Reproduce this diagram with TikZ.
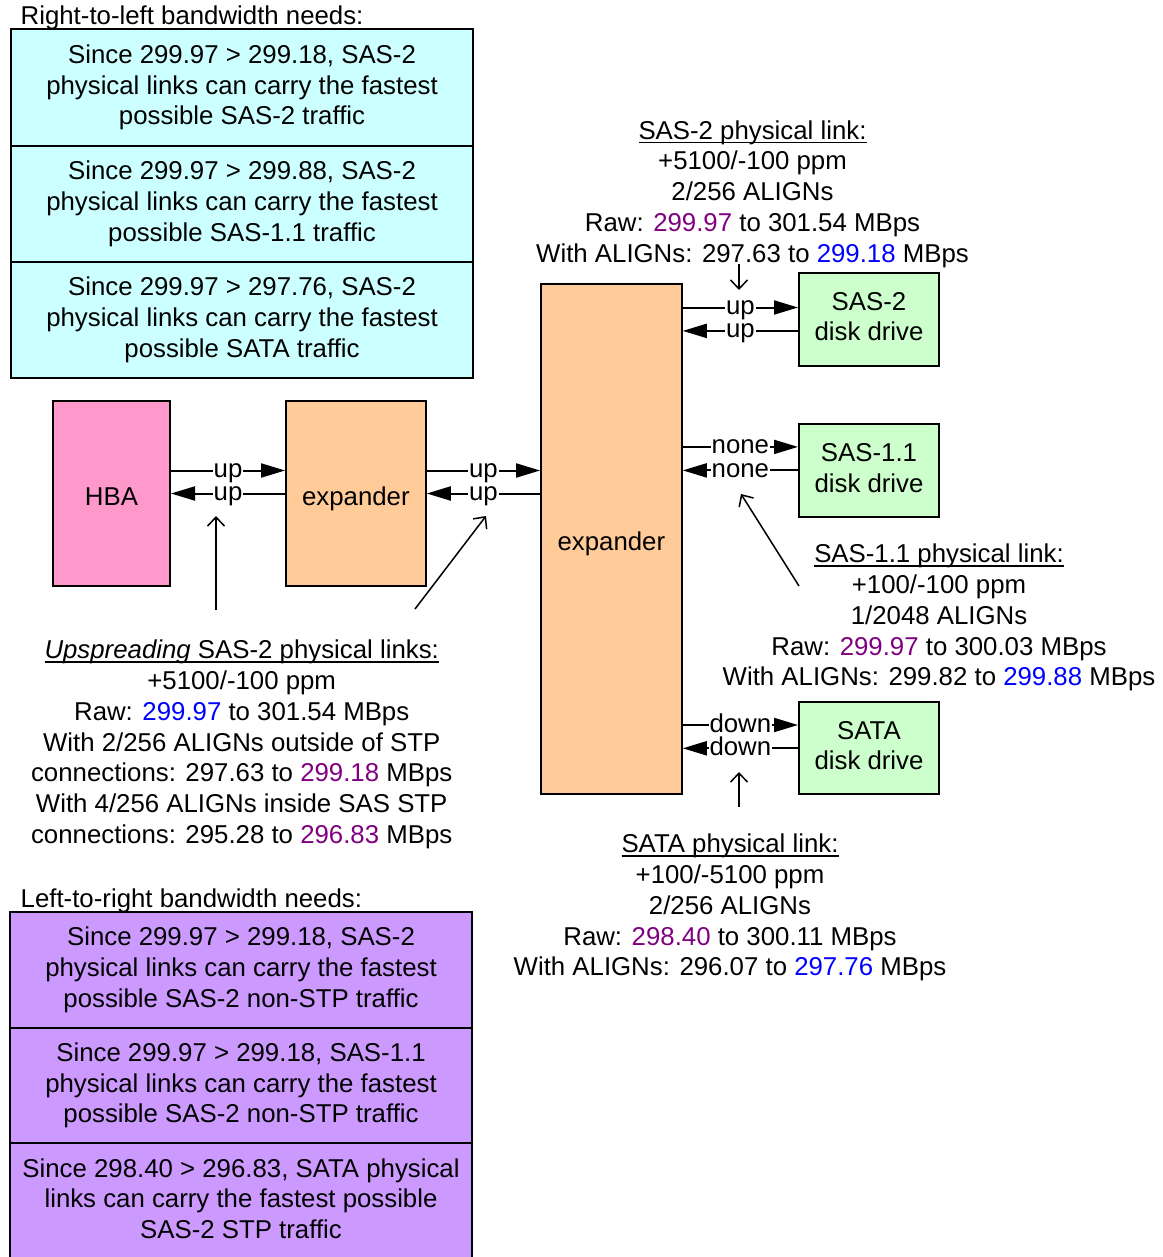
\documentclass[tikz,border=0pt]{standalone}
\usepackage{fontspec}
\setmainfont{Liberation Sans}
\usetikzlibrary{arrows.meta}
\definecolor{txtpurple}{HTML}{800080}
\definecolor{txtblue}{HTML}{0000FF}
\definecolor{cyanfill}{HTML}{CCFFFF}
\definecolor{violetfill}{HTML}{CC99FF}
\definecolor{hbafill}{HTML}{FF99CC}
\definecolor{expfill}{HTML}{FFCC99}
\definecolor{diskfill}{HTML}{CCFFCC}
\newcommand\bodyfont{\fontsize{25.8pt}{30.8pt}\selectfont}
\newcommand\ulx[1]{\setbox0=\hbox{#1}\rlap{\rule[-4.1pt]{\wd0}{1.4pt}}\box0}
\newcommand\pu[1]{\textcolor{txtpurple}{#1}}
\newcommand\bl[1]{\textcolor{txtblue}{#1}}
\begin{document}
\begin{tikzpicture}[x=1pt,y=-1pt,
  box/.style={draw, line width=2pt, inner sep=0pt, align=center, font=\bodyfont,
    execute at begin node={\rule{0pt}{29pt}},
    execute at end node={\rule[-5.5pt]{0pt}{5.5pt}}},
  txt/.style={inner sep=0pt, align=center, font=\bodyfont, anchor=north,
    execute at begin node={\rule{0pt}{25pt}}},
  heading/.style={inner sep=0pt, font=\bodyfont, anchor=base west},
  link/.style={line width=2pt, -{Triangle[length=24pt,width=14pt]}},
  lbl/.style={fill=white, inner xsep=1pt, inner ysep=0.5pt, font=\bodyfont,
    text height=14pt, text depth=0pt},
  ptr/.style={line width=1.5pt, -{Straight Barb[length=9pt,width=17pt]}}
]
\useasboundingbox (0,0) rectangle (1162,1257);

% headings
\node[heading] (rtl) at (20.5,25) {Right-to-left bandwidth needs:};
\node[heading] (ltr) at (20.5,907.5) {Left-to-right bandwidth needs:};

% cyan boxes
\node[box, fill=cyanfill, minimum width=462.6pt, minimum height=116.3pt] (c1) at (242,87.5)
  {Since 299.97 > 299.18, SAS-2\\physical links can carry the fastest\\possible SAS-2 traffic};
\node[box, fill=cyanfill, minimum width=462.6pt, minimum height=116.3pt] (c2) at (242,203.8)
  {Since 299.97 > 299.88, SAS-2\\physical links can carry the fastest\\possible SAS-1.1 traffic};
\node[box, fill=cyanfill, minimum width=462.6pt, minimum height=116.3pt] (c3) at (242,320.1)
  {Since 299.97 > 297.76, SAS-2\\physical links can carry the fastest\\possible SATA traffic};

% violet boxes
\node[box, fill=violetfill, minimum width=462pt, minimum height=115.8pt] (v1) at (241,969.6)
  {Since 299.97 > 299.18, SAS-2\\physical links can carry the fastest\\possible SAS-2 non-STP traffic};
\node[box, fill=violetfill, minimum width=462pt, minimum height=115.8pt] (v2) at (241,1085.4)
  {Since 299.97 > 299.18, SAS-1.1\\physical links can carry the fastest\\possible SAS-2 non-STP traffic};
\node[box, fill=violetfill, minimum width=462pt, minimum height=115.8pt] (v3) at (241,1201.2)
  {Since 298.40 > 296.83, SATA physical\\links can carry the fastest possible\\SAS-2 STP traffic};

% devices
\node[box, fill=hbafill, minimum width=117pt, minimum height=185pt] (hba) at (111.5,493.5) {HBA};
\node[box, fill=expfill, minimum width=139.7pt, minimum height=185pt] (exp1) at (355.9,493.5) {expander};
\node[box, fill=expfill, minimum width=140.7pt, minimum height=510.3pt] (exp2) at (611.4,539.2) {expander};
\node[box, fill=diskfill, minimum width=140pt, minimum height=93pt] (sas2) at (869,319.2) {SAS-2\\disk drive};
\node[box, fill=diskfill, minimum width=140pt, minimum height=93pt] (sas11) at (869,470.4) {SAS-1.1\\disk drive};
\node[box, fill=diskfill, minimum width=140pt, minimum height=92pt] (sata) at (869,748.3) {SATA\\disk drive};

% links
\draw[link] ([yshift=23pt]hba.east) -- node[lbl]{up} ([yshift=23pt]hba.east -| exp1.west);
\draw[link] (exp1.west |- hba.east) -- node[lbl]{up} (hba.east);
\draw[link] ([yshift=23pt]exp1.east) -- node[lbl]{up} ([yshift=23pt]exp1.east -| exp2.west);
\draw[link] (exp1.east -| exp2.west) -- node[lbl]{up} (exp1.east);

\draw[link] ([yshift=11.7pt]sas2.west -| exp2.east) -- node[lbl]{up} ([yshift=11.7pt]sas2.west);
\draw[link] ([yshift=-11.7pt]sas2.west) -- node[lbl]{up} ([yshift=-11.7pt]sas2.west -| exp2.east);
\draw[link] ([yshift=23.5pt]sas11.west -| exp2.east) -- node[lbl]{none} ([yshift=23.5pt]sas11.west);
\draw[link] (sas11.west) -- node[lbl]{none} (sas11.west -| exp2.east);
\draw[link] ([yshift=23.3pt]sata.west -| exp2.east) -- node[lbl]{down} ([yshift=23.3pt]sata.west);
\draw[link] (sata.west) -- node[lbl]{down} (sata.west -| exp2.east);

% text blocks
\node[txt] (sas2txt) at (752.5,120.3) {\ulx{SAS-2 physical link:}\\+5100/-100 ppm\\2/256 ALIGNs\\Raw: \pu{299.97} to 301.54 MBps\\With ALIGNs: 297.63 to \bl{299.18} MBps};
\node[txt] (sas11txt) at (939,543.7) {\ulx{SAS-1.1 physical link:}\\+100/-100 ppm\\1/2048 ALIGNs\\Raw: \pu{299.97} to 300.03 MBps\\With ALIGNs: 299.82 to \bl{299.88} MBps};
\node[txt] (upstxt) at (241.7,639.7) {\ulx{\textit{Upspreading} SAS-2 physical links:}\\+5100/-100 ppm\\Raw: \bl{299.97} to 301.54 MBps\\With 2/256 ALIGNs outside of STP\\connections: 297.63 to \pu{299.18} MBps\\With 4/256 ALIGNs inside SAS STP\\connections: 295.28 to \pu{296.83} MBps};
\node[txt] (satatxt) at (730,833.7) {\ulx{SATA physical link:}\\+100/-5100 ppm\\2/256 ALIGNs\\Raw: \pu{298.40} to 300.11 MBps\\With ALIGNs: 296.07 to \bl{297.76} MBps};

% pointers
\coordinate (p1s) at (216,610);  \coordinate (p1e) at (216,516);
\coordinate (p2s) at (415,609);  \coordinate (p2e) at (486,516);
\coordinate (p3s) at (739,264);  \coordinate (p3e) at (739,290);
\coordinate (p4s) at (799,586);  \coordinate (p4e) at (741,494);
\coordinate (p5s) at (739,807);  \coordinate (p5e) at (739,772);
\draw[ptr] (p1s) -- (p1e);
\draw[ptr] (p2s) -- (p2e);
\draw[ptr] (p3s) -- (p3e);
\draw[ptr] (p4s) -- (p4e);
\draw[ptr] (p5s) -- (p5e);
\end{tikzpicture}
\end{document}
